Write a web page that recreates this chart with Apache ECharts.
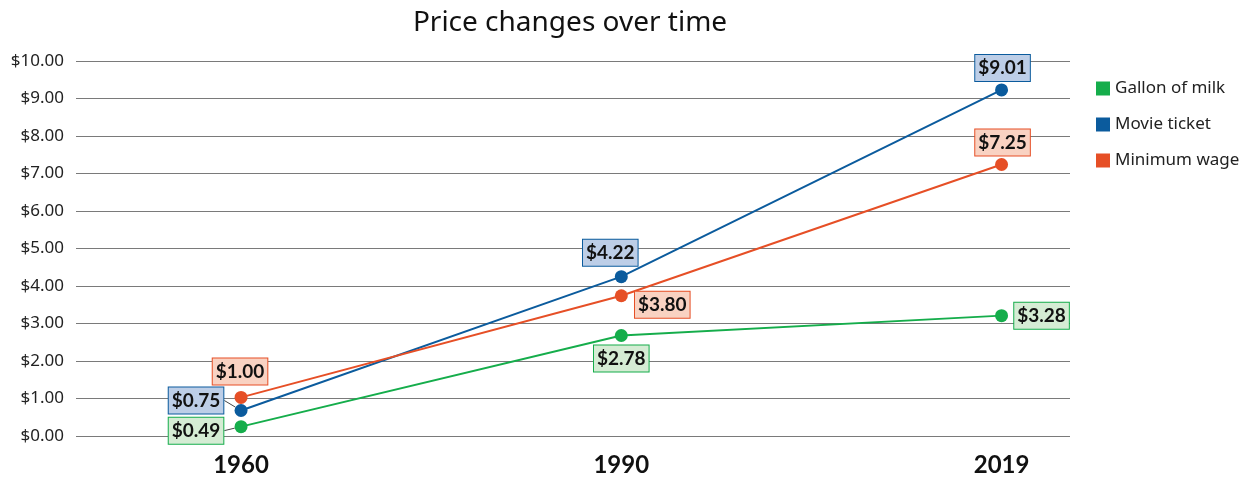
<!DOCTYPE html>
<html>
<head>
<meta charset="utf-8">
<script src="https://cdn.jsdelivr.net/npm/echarts@6/dist/echarts.min.js"></script>
<style>html,body{margin:0;padding:0;background:#fff}#c{width:1244px;height:477px}</style>
</head>
<body>
<div id="c"></div>
<script>
// ---- data ----
const years = ['1960', '1990', '2019'];
const seriesNames = ['Gallon of milk', 'Movie ticket', 'Minimum wage'];
// plotted positions
const milkValues = [0.25, 2.68, 3.21];
const movieValues = [0.68, 4.25, 9.23];
const wageValues = [1.03, 3.74, 7.24];
// label texts as printed in the picture
const milkLabels = ['$0.49', '$2.78', '$3.28'];
const movieLabels = ['$0.75', '$4.22', '$9.01'];
const wageLabels = ['$1.00', '$3.80', '$7.25'];
const yTicks = [0, 1, 2, 3, 4, 5, 6, 7, 8, 9, 10];

// ---- style ----
const colors = ['#15ad4b', '#0b5b9d', '#e64f26'];
const fills = ['#d5ecd4', '#bdcee7', '#f9d2c2'];
const FONT = 'Lato, "Noto Sans", sans-serif';
const FONT2 = '"Noto Sans", Lato, sans-serif';

// label placement per point (style only)
const placements = [
  [{dx: -45, dy: 4, line: true}, {dx: 0, dy: 23}, {dx: 40, dy: 0}],
  [{dx: -45, dy: -10, line: true}, {dx: -11, dy: -24}, {dx: 1, dy: -22}],
  [{dx: -1, dy: -26}, {dx: 41, dy: 9}, {dx: 1, dy: -22}]
];

function buildData(values, labels, si) {
  return values.map((v, i) => {
    const p = placements[si][i];
    return {
      value: [i, v],
      label: {formatter: labels[i]},
      labelLine: {show: !!p.line}
    };
  });
}

const allValues = [milkValues, movieValues, wageValues];
const allLabels = [milkLabels, movieLabels, wageLabels];

const series = seriesNames.map((name, si) => ({
  name: name,
  type: 'line',
  data: buildData(allValues[si], allLabels[si], si),
  symbol: 'circle',
  symbolSize: 13,
  lineStyle: {color: colors[si], width: 2},
  itemStyle: {color: colors[si]},
  z: 3 + si,
  label: {
    show: true,
    position: 'inside',
    fontFamily: FONT,
    fontSize: 19,
    fontWeight: 'bold',
    color: '#111',
    backgroundColor: fills[si],
    borderColor: colors[si],
    borderWidth: 1,
    padding: [4, 3, 3, 3]
  },
  labelLayout: function (params) {
    const p = placements[si][params.dataIndex];
    return {dx: p.dx, dy: p.dy};
  },
  labelLine: {lineStyle: {color: '#444', width: 1}, smooth: false},
  emphasis: {disabled: true}
}));

const chart = echarts.init(document.getElementById('c'), null, {renderer: 'canvas'});
chart.setOption({
  animation: false,
  color: colors,
  title: {
    text: 'Price changes over time',
    left: 565,
    textAlign: 'center',
    top: 4,
    textStyle: {fontFamily: FONT2, fontSize: 28, fontWeight: 'normal', color: '#111'}
  },
  legend: {
    data: seriesNames,
    orient: 'vertical',
    left: 1091,
    top: 75,
    icon: 'rect',
    itemWidth: 14,
    itemHeight: 14,
    itemGap: 19,
    textStyle: {fontFamily: FONT2, fontSize: 17, color: '#222'}
  },
  grid: {left: 76, right: 174, top: 61, bottom: 41},
  xAxis: {
    type: 'value',
    min: -0.434,
    max: 2.18,
    axisLine: {show: false},
    axisTick: {show: false},
    splitLine: {show: false},
    axisLabel: {
      customValues: [0, 1, 2],
      formatter: v => years[Math.round(v)],
      fontFamily: FONT,
      fontSize: 24,
      fontWeight: 'bold',
      color: '#111',
      margin: 17
    }
  },
  yAxis: {
    type: 'value',
    min: yTicks[0],
    max: yTicks[yTicks.length - 1],
    interval: 1,
    axisLine: {show: false},
    axisTick: {show: false},
    splitLine: {lineStyle: {color: '#7a7a7a', width: 1}},
    axisLabel: {
      formatter: v => '$' + v.toFixed(2),
      fontFamily: FONT2,
      fontSize: 17,
      color: '#222',
      margin: 12
    }
  },
  series: series
});
</script>
</body>
</html>
